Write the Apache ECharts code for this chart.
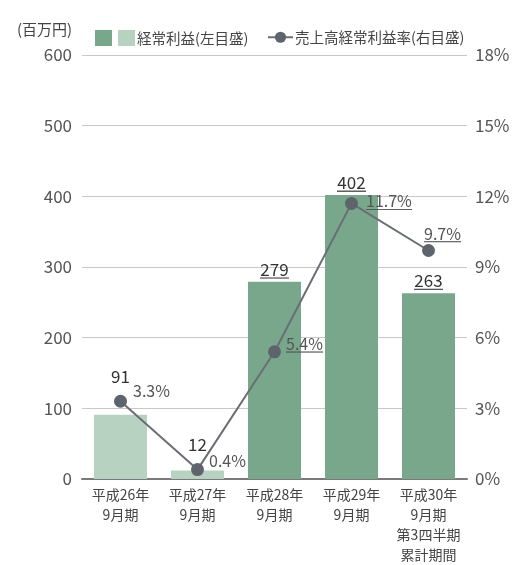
<!DOCTYPE html>
<html>
<head>
    <meta charset="utf-8">
    <title>経常利益</title>
    <script src="https://cdn.jsdelivr.net/npm/echarts@6/dist/echarts.min.js"></script>
</head>
<style>
    *{
        margin: 0;
        padding: 0;
    }
    #main{
        width: 513px;
        height: 565px;
    }
</style>
<body>
<div id="main"></div>
<script>
    // データ
    let categories = ['平成26年\n9月期', '平成27年\n9月期', '平成28年\n9月期', '平成29年\n9月期', '平成30年\n9月期\n第3四半期\n累計期間'];
    let profit = [91, 12, 279, 402, 263];
    let rate = [3.3, 0.4, 5.4, 11.7, 9.7];

    let dark = '#79a78c';
    let light = '#b8d2c2';
    let lineColor = '#5e646c';
    let font = '"Noto Sans CJK JP", "Noto Sans", sans-serif';

    let chart = echarts.init(document.getElementById('main'));

    let svgUrl = s => 'data:image/svg+xml;utf8,' + encodeURIComponent(s);

    // 凡例の2色の四角
    let twoSquares = 'image://' + svgUrl(
        '<svg xmlns="http://www.w3.org/2000/svg" width="40" height="16">' +
        '<rect x="0" y="0" width="17" height="16" fill="' + dark + '"/>' +
        '<rect x="23" y="0" width="17" height="16" fill="' + light + '"/></svg>');

    // 下線 (rich text の背景画像で代用、幅は文字幅に合わせる)
    let underline = svgUrl(
        '<svg xmlns="http://www.w3.org/2000/svg" width="100" height="20" viewBox="0 0 100 20" preserveAspectRatio="none">' +
        '<rect x="0" y="18.5" width="100" height="1.5" fill="#555"/></svg>');
    let ctx = document.createElement('canvas').getContext('2d');
    function underlined(text, size) {
        ctx.font = size + 'px ' + font;
        let w = Math.ceil(ctx.measureText(text).width);
        return {
            formatter: '{u|' + text + '}',
            rich: {u: {width: w, height: size + 2, backgroundColor: {image: underline}}}
        };
    }

    // 最初の2本は薄い色、ラベルは折れ線の点の上、残りは下線付き
    let barData = profit.map((v, i) => {
        let item = {value: v};
        if (i < 2) {
            item.itemStyle = {color: light};
            item.label = {offset: [0, i == 0 ? -27 : -14]};
        } else {
            item.label = underlined(String(v), 17);
        }
        return item;
    });

    let lineOffsets = [[1, -10], [0, -9], [0, -8], [3, -2], [-16, -17]];
    let lineData = rate.map((v, i) => {
        let label = i < 2 ? {} : underlined(v + '%', 16);
        label.offset = lineOffsets[i];
        return {value: v, label: label};
    });

    let option = {
        backgroundColor: '#fff',
        textStyle: {fontFamily: font},
        title: {
            text: '(百万円)',
            left: 12,
            top: 17,
            textStyle: {fontSize: 15, fontWeight: 'normal', color: '#444', fontFamily: font}
        },
        legend: [
            {
                data: [{name: '経常利益(左目盛)', icon: twoSquares}],
                left: 90,
                top: 25,
                itemWidth: 40,
                itemHeight: 16,
                itemGap: 6,
                textStyle: {fontSize: 14.5, color: '#444', padding: [0, 0, 0, -3]}
            },
            {
                data: ['売上高経常利益率(右目盛)'],
                left: 262,
                top: 25,
                itemWidth: 25,
                itemHeight: 14,
                textStyle: {fontSize: 14.5, color: '#444', padding: [0, 0, 0, -3]}
            }
        ],
        grid: {
            left: 82,
            right: 46,
            top: 55,
            bottom: 85
        },
        xAxis: {
            type: 'category',
            data: categories,
            axisTick: {show: false},
            axisLine: {lineStyle: {color: '#7a7a7a', width: 2}},
            axisLabel: {
                color: '#444',
                fontSize: 14,
                lineHeight: 20,
                margin: 6,
                interval: 0
            }
        },
        yAxis: [
            {
                type: 'value',
                min: 0,
                max: 600,
                interval: 100,
                axisLabel: {color: '#555', fontSize: 17, margin: 10},
                splitLine: {lineStyle: {color: '#c8c8c8'}}
            },
            {
                type: 'value',
                min: 0,
                max: 18,
                interval: 3,
                axisLabel: {color: '#555', fontSize: 17, margin: 8, formatter: '{value}%'},
                splitLine: {show: false}
            }
        ],
        series: [
            {
                name: '経常利益(左目盛)',
                type: 'bar',
                data: barData,
                barWidth: 53,
                itemStyle: {color: dark},
                label: {
                    show: true,
                    position: 'top',
                    distance: 3,
                    color: '#333',
                    fontSize: 17
                }
            },
            {
                name: '売上高経常利益率(右目盛)',
                type: 'line',
                yAxisIndex: 1,
                data: lineData,
                symbol: 'circle',
                symbolSize: 13,
                itemStyle: {color: lineColor},
                lineStyle: {color: '#6a6e74', width: 2},
                label: {
                    show: true,
                    position: 'right',
                    color: '#555',
                    fontSize: 16,
                    formatter: '{c}%'
                }
            }
        ]
    };
    chart.setOption(option);
</script>
</body>
</html>
